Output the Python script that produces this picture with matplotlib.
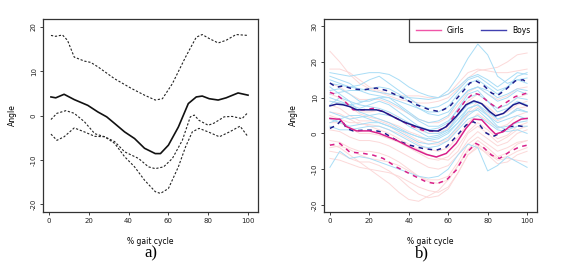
import numpy as np
import matplotlib
matplotlib.use('Agg')
import matplotlib.pyplot as plt

# ---------------- panel a) : mean and bands ----------------
a_mean_x = [1, 3.4, 7.6, 12.7, 19.5, 24.6, 29, 33, 38, 43, 48, 53.4, 56, 60, 65, 70, 74, 77, 80.5, 85, 89, 95, 100]
a_mean_y = [4.2, 4.0, 4.8, 3.6, 2.3, 0.8, -0.3, -1.8, -3.7, -5.2, -7.4, -8.6, -8.6, -6.7, -2.6, 2.7, 4.2, 4.4, 3.8, 3.5, 4.0, 5.1, 4.6]

a_up_x = [1, 3.4, 6.8, 9.3, 12.7, 17.8, 21, 24.6, 33, 41.5, 48, 53.4, 57, 62, 68.6, 74, 77, 80.5, 85, 89, 94, 100]
a_up_y = [18.1, 17.9, 18.2, 17.0, 13.2, 12.3, 12.0, 11.0, 8.3, 6.1, 4.6, 3.5, 3.8, 7.2, 13.2, 17.7, 18.3, 17.4, 16.4, 17.0, 18.3, 18.1]

a_mid_x = [1, 4, 8.5, 12.7, 17.8, 23, 28, 33, 38, 45, 50, 53.4, 57.6, 62, 67, 71, 73, 75.4, 80, 83, 88, 92, 97, 100]
a_mid_y = [-0.9, 0.5, 1.1, 0.5, -1.4, -4.1, -4.8, -5.9, -8.2, -9.7, -11.6, -12.0, -11.6, -9.7, -5.6, -0.3, 0.1, -1.1, -2.2, -1.7, -0.3, -0.2, -0.7, 0.7]

a_low_x = [1, 4, 7.6, 12.7, 17.8, 23, 28, 33, 38, 43, 48, 53.4, 56, 60, 65, 68.6, 72, 75.4, 80, 85.6, 90.7, 96, 100]
a_low_y = [-4.2, -5.6, -4.8, -2.8, -3.7, -4.7, -4.8, -6.3, -9.3, -11.6, -14.6, -17.2, -17.6, -16.5, -11.6, -7.1, -3.7, -2.9, -3.7, -4.8, -3.7, -2.4, -4.8]

# ---------------- panel b) : individual curves ----------------
b_x = list(range(0, 101, 5))

boys_curves = [
    [14, 13.5, 13, 12.5, 12, 11.5, 11, 10.5, 10, 9.8, 9.5, 10, 12, 16, 21, 25, 22, 16, 14, 15, 15.5],
    [17, 16.5, 16, 16.5, 17, 17, 16.5, 15, 13, 11.5, 10.5, 10, 11, 13, 15.5, 16.5, 15, 13, 15, 17, 16.5],
    [15, 14, 13, 13.5, 15, 16, 14, 12, 10, 8, 7, 7.5, 9, 12, 15, 16, 14, 12, 13, 15, 14],
    [12, 12.5, 11, 9, 9, 10, 10, 8, 6, 4, 3, 3.5, 5, 9, 12, 13, 11, 9, 10, 12, 11],
    [10, 9, 8, 7, 8, 9, 8, 6, 4, 2, 1, 1.5, 3, 7, 11, 12, 9, 6, 7, 9, 8],
    [8, 10, 9, 6, 5, 5.5, 5, 4, 2, 0.5, -1, -0.5, 1, 5, 8, 9, 7, 4, 5, 7, 6],
    [6, 5, 4, 4.5, 5, 4, 3, 1.5, 0, -1, -2, -1.5, 0, 3, 7, 8, 5, 3, 4, 5, 4],
    [4, 3, 2, 2.5, 3, 3, 2, 0.5, -1, -2.5, -3, -2.5, -1, 2, 5, 7, 5, 2, 1, 2, 2],
    [2, 1, 1, 1.5, 2, 2, 1, -0.5, -2, -3.5, -4, -3.5, -2, 1, 4, 5, 3, 1, 0.5, 1, 0],
    [-9.5, -5, -7, -6.5, -7, -8, -9, -10, -11, -12, -12.5, -12, -10, -6, -3, -4, -10.5, -9, -6.5, -8, -9.5],
    [11, 11.5, 12, 12, 12.5, 13, 12.5, 11, 9, 7, 5.5, 5, 6, 9, 12, 13, 12, 10, 11, 12.5, 12],
    [9, 8.5, 8, 8.5, 9.5, 10, 9, 7.5, 5.5, 3.5, 2, 2, 3.5, 6.5, 10, 11, 9, 7, 8, 10, 9.5],
    [13, 11, 9, 8, 7.5, 7, 6, 4.5, 3, 1.5, 0, 0, 1, 4, 7, 8, 6, 4, 5, 6.5, 6],
    [3, 4, 5, 5, 4, 3, 2, 1, 0, -1, -1.5, -1, 0.5, 3, 6, 6.5, 4, 1.5, 2, 3, 3.5],
    [16, 15, 14, 12, 11, 10.5, 10, 9, 8, 7, 6, 6, 7.5, 11, 14, 15, 13, 11, 13, 16, 17],
]

girls_curves = [
    [23, 20, 16.5, 14, 12.5, 11.5, 10.5, 9.5, 9, 8.5, 8.5, 9, 10, 12.5, 15.5, 17.5, 18, 18.5, 20, 22, 22.5],
    [18, 18, 17, 15, 13, 12, 11, 10.5, 10.5, 10.5, 10, 10, 11, 14, 17, 18, 17.5, 17, 17, 17.5, 18],
    [11, 10, 8, 6, 6, 6.5, 5.5, 4, 2.5, 1, 0, 0, 1.5, 5, 9, 11, 9, 7, 8, 10, 11],
    [8, 7, 5, 3.5, 3.5, 3.5, 2.5, 1, -0.5, -2, -3, -3, -2, 1.5, 5.5, 7.5, 5.5, 3.5, 5, 7, 7.5],
    [6, 5.5, 4, 2.5, 2.5, 2, 1, 0, -1.5, -3, -4.5, -5, -4, -1, 3, 5.5, 3.5, 1.5, 2.5, 5, 6],
    [3, 3, 1.5, 0, 0, -0.5, -1.5, -2.5, -4, -5.5, -7, -7.5, -6.5, -3.5, 0.5, 3, 1, -1.5, -0.5, 2, 3],
    [1, 0.5, -1, -2, -2, -2.5, -3.5, -5, -6.5, -8, -9.5, -10, -9, -6, -2, 0.5, -1.5, -3.5, -2.5, 0, 1],
    [-2, -2.5, -4, -5, -5, -5.5, -6.5, -8, -10, -12, -13.5, -14, -13, -9, -4.5, -2, -4, -6.5, -5.5, -3, -2],
    [-5, -5.5, -7, -8, -8, -9, -10.5, -12.5, -15, -17, -18, -17.5, -15.5, -11, -6, -3.5, -6, -8.5, -8, -6, -5],
    [-3, -4, -6, -8, -10, -12, -14, -16.5, -18.5, -19, -17.5, -16, -13, -9, -5, -3, -5, -7, -6.5, -5, -4],
    [14, 13, 11, 9.5, 9.5, 9.5, 8.5, 7, 5.5, 4, 3, 3, 4.5, 8, 11.5, 13, 11, 9.5, 10.5, 12.5, 13],
    [5, 4, 3, 3, 2, 1, 0, -1.5, -3, -4.5, -6, -7, -7.5, -5, 0, 2, 0, -2.5, -1, 1, 2],
    [-4, -3.5, -4.5, -6, -7, -7.5, -8, -9, -10.5, -12, -13, -13, -12, -8, -3, -1, -3, -5, -4, -2.5, -2],
    [9, 8.5, 7.5, 5.5, 4.5, 4, 3, 2, 0.5, -0.5, -2, -2.5, -1.5, 2, 6, 9, 7.5, 5, 6, 8, 9],
    [-7, -7.5, -8.5, -9.5, -10, -10.5, -11, -12, -13.5, -15, -16, -16.5, -15, -11, -6, -4, -5.5, -7.5, -7, -7.5, -8],
]

# group means and bands
boys_mean_x = [0, 3.4, 6.7, 10, 13.5, 18.5, 23.6, 27, 32, 37, 44, 50.6, 55, 59, 64, 69, 73, 77, 81, 84, 88, 93, 96, 100]
boys_mean_y = [7.7, 8.2, 8.0, 7.5, 6.6, 6.6, 6.6, 6.1, 4.7, 3.3, 1.9, 0.75, 0.66, 1.9, 4.7, 8.0, 9.1, 8.3, 6.1, 4.9, 5.6, 8.0, 8.6, 7.7]
boys_up_x = [0, 3.4, 6.7, 11.8, 17, 23.6, 28.7, 35.4, 44, 50.6, 55.6, 60.7, 66, 71, 74, 77.6, 82, 85, 89, 94, 98, 100]
boys_up_y = [14.1, 12.9, 13.3, 12.4, 12.2, 12.7, 12.0, 10.3, 8.0, 6.6, 6.1, 7.5, 10.8, 14.1, 14.7, 13.6, 11.3, 10.6, 12.2, 14.7, 15.0, 14.1]
boys_low_x = [0, 3.4, 6, 8.4, 11.8, 17, 22, 27, 33.7, 40.5, 47, 54, 59, 64, 69, 72.5, 76, 79, 82.6, 86, 91, 96, 100]
boys_low_y = [1.4, 2.3, 3.8, 1.4, 0.7, 0.9, 0.9, 0.3, -1.9, -3.3, -4.2, -4.7, -3.8, -0.9, 2.3, 3.3, 2.3, 0.2, -0.9, 0.0, 1.9, 2.1, 1.7]

girls_mean_x = [0, 3.4, 5, 8.4, 13.5, 20, 25, 33.7, 42, 49, 54, 59, 64, 69, 73, 77, 81, 84, 88, 93, 97, 100]
girls_mean_y = [4.2, 4.0, 4.0, 1.9, 0.7, 0.7, 0.0, -1.9, -4.2, -5.9, -6.6, -5.6, -2.8, 1.4, 4.0, 3.8, 1.4, -0.2, 0.5, 2.8, 4.0, 4.2]
girls_up_x = [0, 3.4, 6.7, 11.8, 17, 22, 27, 33.7, 40.5, 47, 54, 59, 64, 69, 73, 76, 81, 85, 89, 94, 100]
girls_up_y = [11.5, 10.8, 9.4, 6.6, 6.6, 7.0, 6.1, 4.2, 2.3, 0.9, 0.5, 1.9, 5.6, 9.4, 11.3, 10.8, 8.5, 7.0, 8.5, 10.3, 11.3]
girls_low_x = [0, 5, 10, 17, 22, 27, 33.7, 40.5, 49, 54, 59, 64, 69, 74, 77.6, 82, 86, 91, 96, 100]
girls_low_y = [-3.3, -2.8, -5.2, -5.6, -6.1, -7.0, -9.4, -11.3, -13.6, -14.1, -13.1, -10.3, -5.6, -2.8, -3.8, -6.1, -7.0, -5.2, -3.8, -3.3]

a_yticks = [-20, -10, 0, 10, 20]
b_yticks = [-20, -10, 0, 10, 20, 30]
xticks = [0, 20, 40, 60, 80, 100]

FS = 5

fig = plt.figure(figsize=(5.71, 2.71), dpi=100)
ax1 = fig.add_axes([0.0753, 0.2177, 0.3765, 0.712])
ax2 = fig.add_axes([0.5674, 0.2177, 0.373, 0.712])


def style(ax, yticks, ylim):
    ax.set_xlim(-3, 105)
    ax.set_ylim(*ylim)
    ax.set_xticks(xticks)
    ax.set_yticks(yticks)
    ax.set_yticklabels([str(v) for v in yticks], rotation=90, va='center')
    ax.tick_params(labelsize=FS, length=2.5, width=0.6, pad=2, colors='#222222')
    for s in ax.spines.values():
        s.set_linewidth(0.9)
        s.set_color('#333333')
    ax.set_xlabel('% gait cycle', fontsize=FS + 0.5, labelpad=9)
    ax.set_ylabel('Angle', fontsize=FS + 0.5, labelpad=10)


# a)
dot = (2, 1.6)
ax1.plot(a_up_x, a_up_y, color='#222222', lw=0.8, dashes=dot)
ax1.plot(a_mid_x, a_mid_y, color='#222222', lw=0.8, dashes=dot)
ax1.plot(a_low_x, a_low_y, color='#222222', lw=0.8, dashes=dot)
ax1.plot(a_mean_x, a_mean_y, color='#111111', lw=1.2)
style(ax1, a_yticks, (-21.8, 21.8))

# b)
for c in girls_curves:
    ax2.plot(b_x, c, color='#FCD9D9', lw=0.7)
for c in boys_curves:
    ax2.plot(b_x, c, color='#A9DDF6', lw=0.7)
dsh = (3, 3)
ax2.plot(girls_up_x, girls_up_y, color='#D8208A', lw=1.1, dashes=dsh)
ax2.plot(girls_low_x, girls_low_y, color='#D8208A', lw=1.1, dashes=dsh)
ax2.plot(boys_up_x, boys_up_y, color='#1C1C8C', lw=1.1, dashes=dsh)
ax2.plot(boys_low_x, boys_low_y, color='#1C1C8C', lw=1.1, dashes=dsh)
ax2.plot(girls_mean_x, girls_mean_y, color='#D8208A', lw=1.1)
ax2.plot(boys_mean_x, boys_mean_y, color='#1C1C8C', lw=1.1)
style(ax2, b_yticks, (-22, 32))

h1, = ax2.plot([], [], color='#F055A8', lw=1.0)
h2, = ax2.plot([], [], color='#4040B0', lw=1.0)
leg = ax2.legend([h1, h2], ['Girls', 'Boys'], loc='upper right', ncol=2,
                 fontsize=FS + 0.5, frameon=True, fancybox=False,
                 borderaxespad=0, handlelength=3.2, columnspacing=2.2,
                 borderpad=0.9, handletextpad=0.8)
leg.get_frame().set_edgecolor('#111111')
leg.get_frame().set_linewidth(0.9)

fig.text(0.2635, 0.052, 'a)', fontsize=12, family='Liberation Serif', ha='center')
fig.text(0.739, 0.052, 'b)', fontsize=12, family='Liberation Serif', ha='center')

fig.savefig('out.png', dpi=100)
